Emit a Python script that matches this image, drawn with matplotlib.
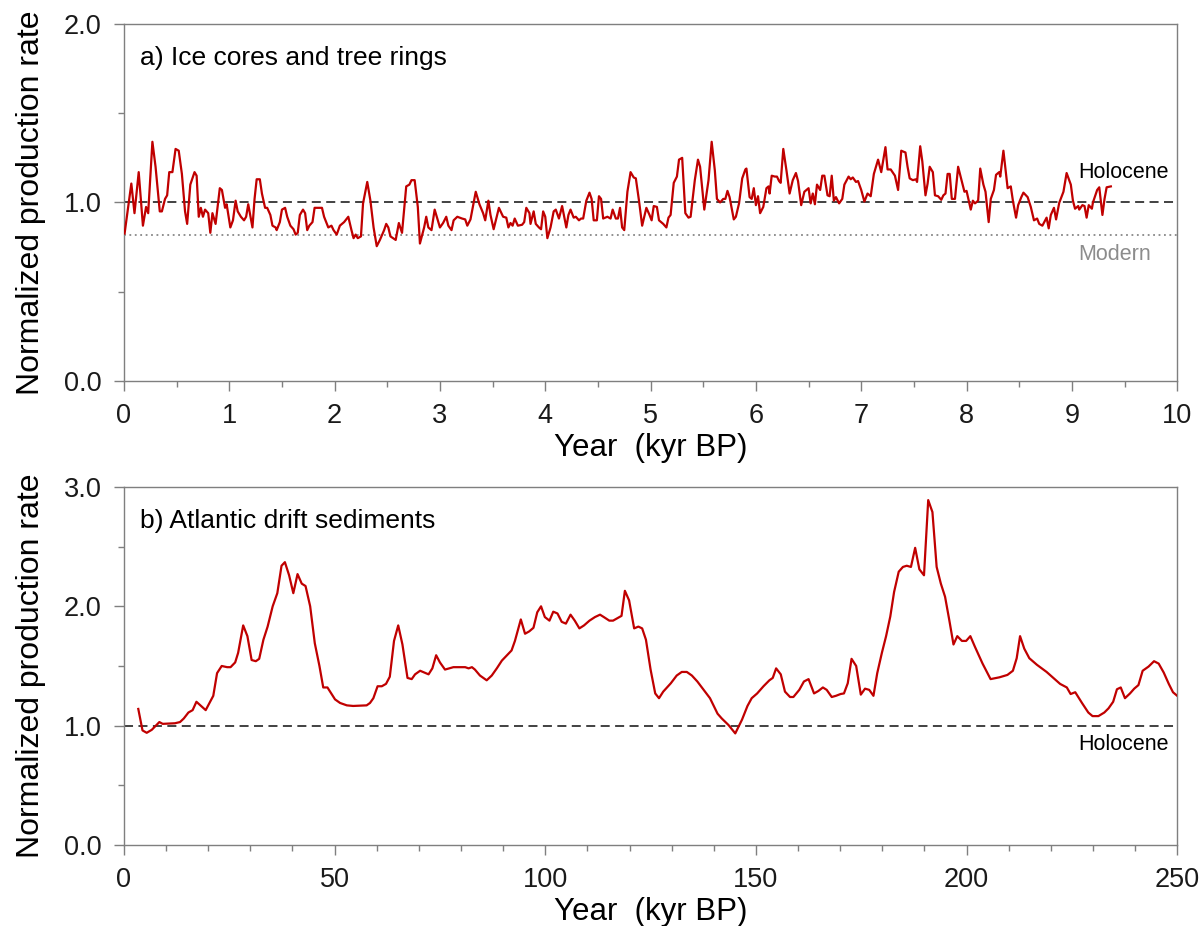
import matplotlib
matplotlib.use('Agg')
import matplotlib.pyplot as plt
from matplotlib.ticker import MultipleLocator

plt.rcParams['font.family'] = ['Liberation Sans', 'DejaVu Sans']

# a) ice cores and tree rings (kyr BP, normalized production rate)
ice_age = [0.006, 0.07, 0.10, 0.14, 0.18, 0.21, 0.23, 0.27, 0.30, 0.34, 0.36, 0.39, 0.41, 0.43, 0.46,
           0.49, 0.52, 0.55, 0.58, 0.60, 0.63, 0.67, 0.69, 0.71, 0.73, 0.75, 0.77, 0.80, 0.82, 0.84,
           0.87, 0.91, 0.93, 0.96, 0.975, 1.01, 1.035, 1.06, 1.08, 1.11, 1.14, 1.16, 1.18, 1.22, 1.24,
           1.26, 1.29, 1.31, 1.34, 1.36, 1.39, 1.41, 1.44, 1.45, 1.48, 1.50, 1.53, 1.55, 1.58, 1.61,
           1.63, 1.65, 1.67, 1.70, 1.72, 1.74, 1.76, 1.79, 1.81, 1.855, 1.88, 1.90, 1.94, 1.97, 1.99,
           2.02, 2.05, 2.09, 2.13, 2.16, 2.18, 2.20, 2.22, 2.25, 2.27, 2.31, 2.34, 2.37, 2.40, 2.43,
           2.47, 2.49, 2.51, 2.53, 2.58, 2.61, 2.64, 2.68, 2.71, 2.73, 2.76, 2.79, 2.81, 2.85, 2.87,
           2.89, 2.92, 2.95, 2.98, 3.00, 3.03, 3.06, 3.08, 3.11, 3.13, 3.165, 3.21, 3.24, 3.26, 3.29,
           3.34, 3.375, 3.41, 3.43, 3.46, 3.48, 3.51, 3.56, 3.60, 3.63, 3.65, 3.67, 3.69, 3.71, 3.74,
           3.78, 3.80, 3.82, 3.85, 3.86, 3.89, 3.91, 3.94, 3.96, 3.98, 4.00, 4.02, 4.05, 4.08, 4.10,
           4.13, 4.16, 4.18, 4.20, 4.22, 4.24, 4.27, 4.29, 4.32, 4.34, 4.36, 4.39, 4.42, 4.44, 4.46,
           4.49, 4.51, 4.53, 4.55, 4.57, 4.59, 4.62, 4.64, 4.67, 4.69, 4.71, 4.73, 4.75, 4.78, 4.81,
           4.84, 4.86, 4.89, 4.92, 4.96, 4.99, 5.01, 5.03, 5.06, 5.08, 5.12, 5.15, 5.17, 5.19, 5.22,
           5.25, 5.27, 5.30, 5.33, 5.36, 5.38, 5.42, 5.45, 5.47, 5.51, 5.55, 5.58, 5.61, 5.63, 5.66,
           5.69, 5.71, 5.73, 5.75, 5.79, 5.81, 5.84, 5.87, 5.90, 5.91, 5.94, 5.96, 5.98, 6.00, 6.02,
           6.04, 6.07, 6.10, 6.12, 6.13, 6.15, 6.18, 6.20, 6.22, 6.235, 6.26, 6.29, 6.32, 6.35, 6.38,
           6.40, 6.43, 6.46, 6.48, 6.50, 6.52, 6.54, 6.56, 6.58, 6.61, 6.63, 6.65, 6.68, 6.70, 6.72,
           6.74, 6.76, 6.79, 6.82, 6.84, 6.88, 6.90, 6.92, 6.95, 6.97, 7.00, 7.03, 7.06, 7.09, 7.12,
           7.16, 7.19, 7.23, 7.25, 7.28, 7.32, 7.35, 7.38, 7.42, 7.44, 7.46, 7.49, 7.52, 7.53, 7.56,
           7.58, 7.61, 7.63, 7.65, 7.68, 7.70, 7.73, 7.76, 7.78, 7.80, 7.82, 7.84, 7.86, 7.89, 7.92,
           7.96, 7.98, 8.00, 8.04, 8.06, 8.08, 8.11, 8.13, 8.16, 8.18, 8.21, 8.23, 8.26, 8.28, 8.31,
           8.32, 8.35, 8.39, 8.42, 8.44, 8.47, 8.49, 8.52, 8.54, 8.58, 8.61, 8.64, 8.67, 8.69, 8.72,
           8.76, 8.78, 8.80, 8.83, 8.85, 8.88, 8.92, 8.95, 8.99, 9.01, 9.03, 9.06, 9.07, 9.10, 9.12,
           9.14, 9.16, 9.19, 9.20, 9.24, 9.26, 9.29, 9.31, 9.33, 9.37]
ice_rate = [0.826, 1.106, 0.94, 1.17, 0.87, 0.975, 0.94, 1.34, 1.20, 0.95, 0.95, 1.02, 1.04, 1.17, 1.17,
            1.30, 1.29, 1.16, 0.95, 0.88, 1.10, 1.17, 1.15, 0.92, 0.97, 0.92, 0.96, 0.94, 0.83, 0.94,
            0.88, 1.08, 1.07, 0.97, 0.99, 0.86, 0.90, 1.01, 0.95, 0.92, 0.90, 0.92, 0.99, 0.86, 1.02,
            1.13, 1.13, 1.05, 0.97, 0.97, 0.93, 0.87, 0.86, 0.845, 0.89, 0.96, 0.97, 0.92, 0.87, 0.85,
            0.82, 0.83, 0.93, 0.96, 0.94, 0.845, 0.87, 0.89, 0.97, 0.97, 0.97, 0.92, 0.86, 0.87, 0.845,
            0.82, 0.87, 0.89, 0.92, 0.845, 0.80, 0.82, 0.80, 0.81, 0.995, 1.115, 1.01, 0.86, 0.755, 0.79,
            0.845, 0.88, 0.86, 0.81, 0.79, 0.885, 0.83, 1.09, 1.10, 1.125, 1.125, 0.975, 0.77, 0.86, 0.92,
            0.86, 0.845, 0.96, 0.90, 0.86, 0.885, 0.92, 0.87, 0.845, 0.90, 0.92, 0.91, 0.905, 0.87, 0.905,
            1.06, 0.99, 0.94, 0.90, 1.01, 0.93, 0.85, 0.97, 0.92, 0.915, 0.86, 0.885, 0.87, 0.91, 0.87,
            0.875, 0.89, 0.97, 0.94, 0.88, 0.95, 0.88, 0.86, 0.85, 0.95, 0.92, 0.80, 0.86, 0.95, 0.96,
            0.91, 0.98, 0.92, 0.86, 0.93, 0.96, 0.915, 0.92, 0.90, 0.91, 0.91, 1.01, 1.055, 1.02, 0.90,
            0.90, 1.035, 1.02, 0.91, 0.915, 0.92, 0.91, 0.96, 0.91, 0.91, 0.97, 0.86, 0.845, 1.06, 1.17,
            1.14, 1.135, 1.01, 0.87, 0.97, 0.93, 0.90, 0.98, 0.975, 0.90, 0.88, 0.86, 0.915, 0.93, 1.11,
            1.145, 1.24, 1.25, 0.94, 0.915, 0.92, 1.125, 1.24, 1.20, 0.96, 1.125, 1.34, 1.18, 1.02, 1.00,
            1.02, 1.02, 1.065, 1.03, 0.905, 0.92, 0.995, 1.135, 1.185, 1.19, 1.03, 1.02, 1.08, 0.985, 1.035,
            0.94, 0.975, 1.08, 1.09, 1.05, 1.15, 1.145, 1.145, 1.12, 1.11, 1.30, 1.18, 1.05, 1.125, 1.165,
            1.12, 0.985, 1.06, 1.07, 1.08, 0.995, 1.05, 0.99, 1.10, 1.07, 1.15, 1.15, 1.04, 1.035, 1.15,
            1.01, 1.03, 0.995, 1.02, 1.10, 1.145, 1.13, 1.14, 1.115, 1.12, 1.07, 1.005, 1.05, 1.035, 1.16,
            1.24, 1.17, 1.31, 1.185, 1.185, 1.15, 1.07, 1.29, 1.28, 1.20, 1.135, 1.125, 1.13, 1.115, 1.315,
            1.23, 1.04, 1.105, 1.20, 1.17, 1.04, 1.035, 1.015, 1.04, 1.05, 1.16, 1.16, 1.02, 1.02, 1.20,
            1.105, 1.06, 1.065, 0.96, 1.01, 0.995, 1.01, 1.19, 1.10, 1.06, 0.89, 1.02, 1.07, 1.155, 1.17,
            1.145, 1.29, 1.08, 1.09, 1.01, 0.915, 0.985, 1.03, 1.055, 1.03, 0.975, 0.90, 0.91, 0.88, 0.87,
            0.915, 0.855, 0.93, 0.97, 0.905, 0.998, 1.06, 1.165, 1.10, 1.01, 0.965, 0.98, 0.96, 0.985, 0.98,
            0.915, 0.985, 0.965, 1.00, 1.07, 1.085, 0.93, 1.02, 1.085, 1.09]

# b) Atlantic drift sediments
sed_age = [3.4, 4.4, 5.4, 6.6, 8.4, 9.2, 12.1, 13.3, 14.2, 15.3, 16.3, 17.2, 19.4, 21.2, 22.1,
           23.2, 24.5, 25.3, 26.4, 27.1, 28.3, 29.3, 30.3, 31.3, 32.1, 33.1, 34.1, 35.3, 36.4, 37.4,
           38.2, 39.2, 40.2, 41.2, 42.2, 43.1, 44.2, 45.3, 46.4, 47.3, 48.3, 50.1, 51.3, 52.9, 54.4,
           57.6, 58.4, 59.2, 60.2, 61.2, 62.2, 63.1, 64.1, 65.1, 66.1, 67.3, 68.3, 69.1, 70.3, 72.3,
           73.2, 74.1, 75.0, 76.2, 78.2, 81.0, 81.8, 82.6, 83.3, 84.5, 86.1, 87.3, 88.5, 89.7, 90.9,
           92.0, 92.8, 94.2, 95.2, 96.2, 97.2, 98.1, 99.0, 99.9, 101.0, 101.9, 102.9, 103.9, 104.9, 106.0,
           107.0, 108.1, 109.2, 110.5, 111.8, 113.0, 113.9, 115.2, 116.1, 117.1, 118.1, 118.9, 119.9, 121.1, 122.1,
           123.0, 123.9, 125.0, 126.1, 127.0, 128.0, 129.8, 131.2, 132.4, 133.6, 134.8, 136.1, 137.5, 139.1, 140.9,
           141.9, 143.5, 145.1, 146.7, 148.0, 149.0, 150.3, 151.8, 153.2, 154.0, 154.8, 155.9, 156.9, 158.1, 158.9,
           160.3, 161.4, 162.5, 163.8, 164.8, 165.9, 166.8, 168.0, 169.0, 170.1, 170.9, 171.8, 172.7, 173.8, 174.9,
           175.9, 176.9, 177.9, 178.8, 179.9, 180.9, 181.9, 182.8, 183.9, 184.9, 185.8, 186.8, 187.8, 188.8, 189.9,
           190.9, 191.9, 192.9, 193.9, 194.9, 195.9, 196.9, 197.8, 198.9, 199.9, 200.9, 202.0, 203.8, 205.7, 207.8,
           209.7, 211.0, 211.9, 212.7, 213.7, 214.9, 216.7, 219.0, 220.6, 222.2, 223.8, 224.7, 225.8, 227.4, 228.9,
           229.9, 231.3, 232.7, 233.7, 234.8, 235.7, 236.6, 237.6, 238.8, 239.8, 240.8, 241.8, 243.2, 244.5, 245.6,
           246.8, 248.0, 249.0, 250.0]
sed_rate = [1.14, 0.96, 0.94, 0.965, 1.03, 1.015, 1.02, 1.03, 1.06, 1.11, 1.13, 1.20, 1.13, 1.25, 1.44,
            1.50, 1.49, 1.49, 1.53, 1.61, 1.84, 1.75, 1.55, 1.54, 1.56, 1.72, 1.83, 2.00, 2.11, 2.34,
            2.37, 2.26, 2.11, 2.27, 2.19, 2.17, 2.00, 1.69, 1.50, 1.32, 1.32, 1.22, 1.19, 1.17, 1.165,
            1.17, 1.19, 1.23, 1.33, 1.33, 1.35, 1.41, 1.71, 1.84, 1.68, 1.40, 1.39, 1.43, 1.46, 1.43,
            1.48, 1.59, 1.53, 1.47, 1.49, 1.49, 1.48, 1.49, 1.47, 1.42, 1.38, 1.42, 1.48, 1.545, 1.59,
            1.63, 1.71, 1.89, 1.77, 1.79, 1.82, 1.95, 2.00, 1.91, 1.88, 1.955, 1.94, 1.87, 1.855, 1.93,
            1.88, 1.815, 1.84, 1.88, 1.91, 1.93, 1.91, 1.88, 1.88, 1.90, 1.92, 2.13, 2.05, 1.815, 1.83,
            1.815, 1.72, 1.47, 1.27, 1.23, 1.285, 1.355, 1.42, 1.45, 1.45, 1.42, 1.37, 1.305, 1.23, 1.10,
            1.06, 1.005, 0.935, 1.05, 1.165, 1.23, 1.27, 1.33, 1.38, 1.40, 1.48, 1.43, 1.285, 1.24, 1.24,
            1.30, 1.37, 1.39, 1.27, 1.29, 1.32, 1.30, 1.24, 1.25, 1.265, 1.27, 1.355, 1.56, 1.50, 1.26,
            1.31, 1.30, 1.25, 1.44, 1.61, 1.75, 1.915, 2.12, 2.29, 2.33, 2.34, 2.33, 2.49, 2.31, 2.26,
            2.89, 2.79, 2.33, 2.19, 2.08, 1.885, 1.68, 1.75, 1.71, 1.71, 1.75, 1.66, 1.52, 1.39, 1.405,
            1.425, 1.46, 1.565, 1.75, 1.645, 1.565, 1.51, 1.45, 1.40, 1.35, 1.32, 1.265, 1.28, 1.19, 1.11,
            1.08, 1.08, 1.11, 1.145, 1.20, 1.305, 1.32, 1.23, 1.27, 1.31, 1.34, 1.46, 1.495, 1.54, 1.52,
            1.445, 1.35, 1.28, 1.25]

holocene = 1.0
modern = 0.818

line_color = '#c00000'
spine_color = '#7f7f7f'

fig = plt.figure(figsize=(12, 9.26), dpi=100)
ax1 = fig.add_axes([0.1033, 0.5886, 0.8777, 0.3855])
ax2 = fig.add_axes([0.1033, 0.0875, 0.8777, 0.3866])


def style_axes(ax):
    for s in ax.spines.values():
        s.set_color(spine_color)
        s.set_linewidth(1.0)
    ax.tick_params(which='both', direction='out', color=spine_color, labelsize=19.5,
                   labelcolor='#1a1a1a', pad=9)
    ax.tick_params(which='major', length=7, width=1.0)
    ax.tick_params(which='minor', length=4.5, width=1.0)
    ax.set_ylabel('Normalized production rate', fontsize=23, labelpad=13)
    ax.set_xlabel('Year  (kyr BP)', fontsize=22.5, labelpad=3)


# top panel
ax1.plot(ice_age, ice_rate, color=line_color, linewidth=1.6, zorder=3)
ax1.axhline(holocene, color='#333333', linestyle=(0, (5, 3)), linewidth=1.3, zorder=2)
ax1.axhline(modern, color='#888888', linestyle=(0, (1, 2)), linewidth=1.3, zorder=2)
ax1.set_xlim(0, 10)
ax1.set_ylim(0, 2)
ax1.xaxis.set_major_locator(MultipleLocator(1))
ax1.xaxis.set_minor_locator(MultipleLocator(0.5))
ax1.yaxis.set_major_locator(MultipleLocator(1))
ax1.yaxis.set_minor_locator(MultipleLocator(0.5))
ax1.yaxis.set_major_formatter(lambda v, p: f'{v:.1f}')
style_axes(ax1)
ax1.text(0.015, 0.905, 'a) Ice cores and tree rings', transform=ax1.transAxes,
         fontsize=19, va='center', ha='left')
ax1.text(9.06, 1.17, 'Holocene', fontsize=15.5, va='center', ha='left')
ax1.text(9.06, 0.71, 'Modern', fontsize=15.5, va='center', ha='left', color='#8c8c8c')

# bottom panel
ax2.plot(sed_age, sed_rate, color=line_color, linewidth=1.6, zorder=3)
ax2.axhline(holocene, color='#333333', linestyle=(0, (5, 3)), linewidth=1.3, zorder=2)
ax2.set_xlim(0, 250)
ax2.set_ylim(0, 3)
ax2.xaxis.set_major_locator(MultipleLocator(50))
ax2.xaxis.set_minor_locator(MultipleLocator(10))
ax2.yaxis.set_major_locator(MultipleLocator(1))
ax2.yaxis.set_minor_locator(MultipleLocator(0.5))
ax2.yaxis.set_major_formatter(lambda v, p: f'{v:.1f}')
style_axes(ax2)
ax2.text(0.015, 0.905, 'b) Atlantic drift sediments', transform=ax2.transAxes,
         fontsize=19, va='center', ha='left')
ax2.text(226.5, 0.84, 'Holocene', fontsize=15.5, va='center', ha='left')

fig.savefig('out.png', dpi=100)
